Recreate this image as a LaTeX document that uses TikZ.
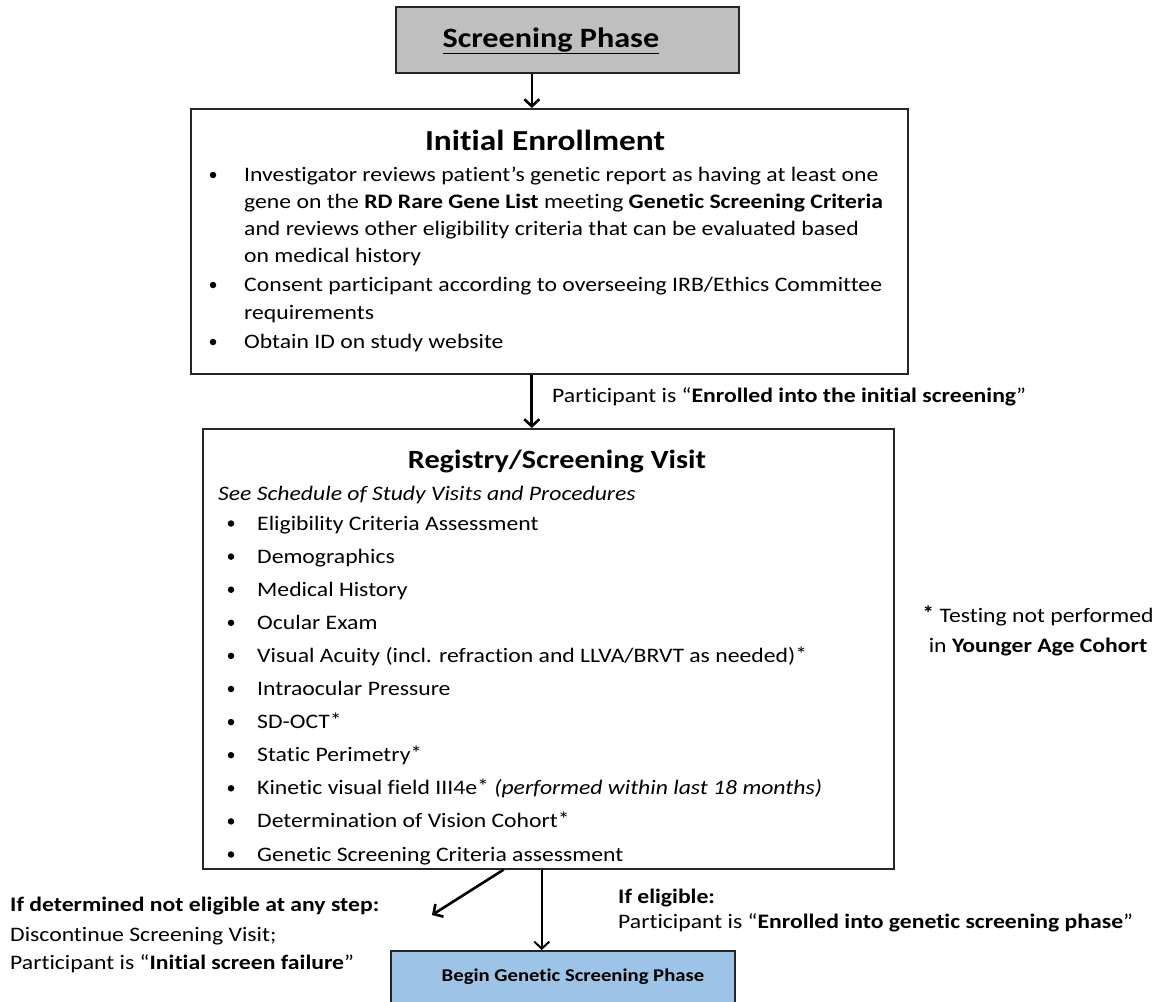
\documentclass[tikz,border=0pt]{standalone}
\usepackage{fontspec}
\setmainfont{Carlito}[FakeStretch=1.15,Ligatures={TeX,NoCommon}]
\usetikzlibrary{arrows.meta,calc}
\definecolor{grayfill}{HTML}{BFBFBF}
\definecolor{bluefill}{HTML}{9DC3E6}
\newcommand{\astr}{\raisebox{0.06em}{*}}
\begin{document}
\begin{tikzpicture}[x=1pt,y=-1pt,
  box/.style={draw=black!85, line width=1.6pt, inner sep=0pt, anchor=north west},
  arr/.style={line width=2.6pt, -{Straight Barb[length=7pt,width=15pt,line width=2.6pt]}},
  thinarr/.style={line width=2pt, -{Straight Barb[length=7pt,width=15pt,line width=2pt]}},
  txt/.style={anchor=base west, inner sep=0pt, font=\fontsize{20.6}{24}\selectfont},
  ttl/.style={anchor=base, inner sep=0pt, font=\fontsize{28}{33}\selectfont\bfseries},
  bul/.style={circle, fill=black, inner sep=0pt, minimum size=6.5pt}]
\useasboundingbox (0,0) rectangle (1158,1001);
\clip (0,0) rectangle (1158,1001);
% boxes
\node[box, fill=grayfill, minimum width=343pt, minimum height=66pt] (sp) at (395,6) {};
\node[box, minimum width=717pt, minimum height=265pt] (ie) at (190,108) {};
\node[box, minimum width=691pt, minimum height=440pt] (rs) at (202,428) {};
\node[box, fill=bluefill, minimum width=344pt, minimum height=60pt] (bg) at (390,950) {};
% screening phase
\node[ttl] (spt) at (551,47) {\underline{Screening Phase}};
% initial enrollment
\node[ttl, font=\fontsize{29}{34}\selectfont\bfseries] (iet) at (545,150) {Initial Enrollment};
\node[bul] (b1) at (213,175) {};
\node[txt] (l1) at (244,181) {Investigator reviews patient’s genetic report as having at least one};
\node[txt] (l2) at (244,208) {gene on the \textbf{RD Rare Gene List} meeting \textbf{Genetic Screening Criteria}};
\node[txt] (l3) at (244,235) {and reviews other eligibility criteria that can be evaluated based};
\node[txt] (l4) at (244,262) {on medical history};
\node[bul] (b2) at (213,285) {};
\node[txt] (l5) at (244,291) {Consent participant according to overseeing IRB/Ethics Committee};
\node[txt] (l6) at (244,319) {requirements};
\node[bul] (b3) at (213,342) {};
\node[txt] (l7) at (244,348) {Obtain ID on study website};
% label
\node[txt] (enr) at (552,402) {Participant is “\textbf{Enrolled into the initial screening}”};
% registry
\node[ttl, font=\fontsize{26.3}{31}\selectfont\bfseries] (rst) at (557,468) {Registry/Screening Visit};
\node[txt] (sch) at (218,500) {\itshape See Schedule of Study Visits and Procedures};
\foreach \t [count=\i] in {Eligibility Criteria Assessment, Demographics, Medical History, Ocular Exam,
  Visual Acuity (incl. refraction and LLVA/BRVT as needed)\astr, Intraocular Pressure, SD-OCT\astr,
  Static Perimetry\astr, {Kinetic visual field III4e\astr{} \textit{(performed within last 18 months)}},
  Determination of Vision Cohort\astr, Genetic Screening Criteria assessment}{
  \pgfmathsetmacro{\yy}{530+(\i-1)*33.1}
  \node[bul] (rb\i) at (231,\yy-6.5) {};
  \node[txt] (r\i) at (257,\yy) {\t};
}
% note
\node[anchor=base, inner sep=0pt, font=\fontsize{20.6}{24}\selectfont] (n1) at (1038,622) {\textbf{\astr} Testing not performed};
\node[anchor=base, inner sep=0pt, font=\fontsize{20.6}{24}\selectfont] (n2) at (1038,652) {in \textbf{Younger Age Cohort}};
% bottom texts
\node[txt] (f1) at (10,911) {\textbf{If determined not eligible at any step:}};
\node[txt] (f2) at (10,941) {Discontinue Screening Visit;};
\node[txt] (f3) at (10,969) {Participant is “\textbf{Initial screen failure}”};
\node[txt] (e1) at (618,903) {\textbf{If eligible:}};
\node[txt] (e2) at (618,928) {Participant is “\textbf{Enrolled into genetic screening phase}”};
\node[anchor=base, inner sep=0pt, font=\fontsize{18}{21}\selectfont\bfseries] (bgt) at (573,981) {Begin Genetic Screening Phase};
% arrows
\draw[arr] ($(sp.south west)!0.397!(sp.south east)$) coordinate (a1) -- (a1 |- ie.north);
\draw[arr] ($(ie.south west)!0.4756!(ie.south east)$) coordinate (a2) -- (a2 |- rs.north);
\draw[thinarr] ($(rs.south west)!0.4906!(rs.south east)$) coordinate (a3) -- (a3 |- bg.north);
\coordinate (fail) at (432,915);
\draw[arr] ($(rs.south west)!0.4356!(rs.south east)$) -- (fail);
\end{tikzpicture}
\end{document}
